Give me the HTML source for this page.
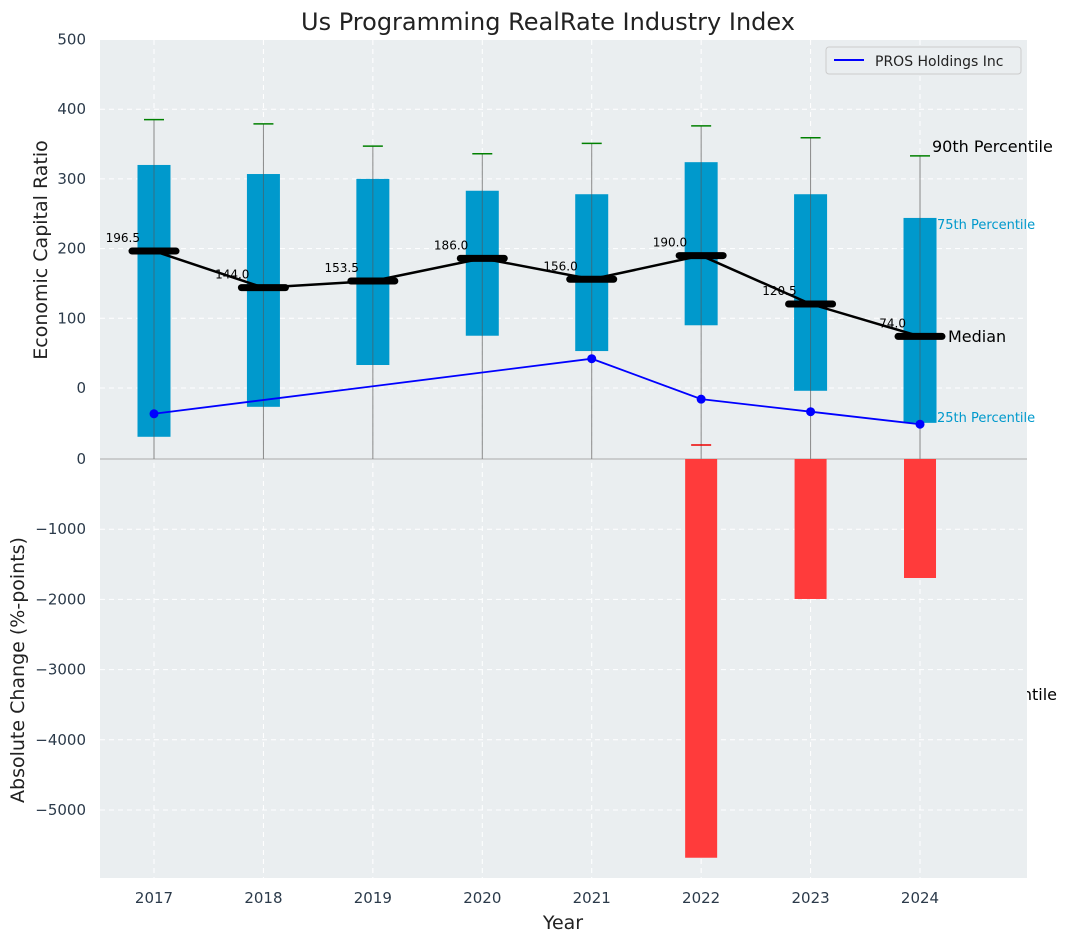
<!DOCTYPE html>
<html><head><meta charset="utf-8"><style>
body{margin:0;background:#fff;font-family:"DejaVu Sans","Liberation Sans",sans-serif}
svg text{font-family:"DejaVu Sans","Liberation Sans",sans-serif}
</style></head><body>
<svg id="c" width="1067" height="942" xmlns="http://www.w3.org/2000/svg">
<text x="1057" y="700" text-anchor="end" font-size="16" fill="#000">10th Percentile</text>
<rect x="100" y="40" width="927" height="838" fill="#eaeef0"/>
<g id="grid"></g>
<g id="marks"></g>
<text x="548" y="30" text-anchor="middle" font-size="24" fill="#222">Us Programming RealRate Industry Index</text>
<text x="563" y="929" text-anchor="middle" font-size="19" fill="#222">Year</text>
<text transform="translate(47,250) rotate(-90)" text-anchor="middle" font-size="19" fill="#222">Economic Capital Ratio</text>
<text transform="translate(24,670) rotate(-90)" text-anchor="middle" font-size="19" fill="#222">Absolute Change (%-points)</text>
<g>
<rect x="826" y="47" width="195" height="27" rx="3" fill="#eaeef0" stroke="#ccc"/>
<line x1="834" y1="60" x2="864" y2="60" stroke="#0000ff" stroke-width="2"/>
<text x="875" y="66" font-size="14" fill="#222">PROS Holdings Inc</text>
</g>
<text x="932" y="152" font-size="16" fill="#000">90th Percentile</text>
<text x="937" y="229" font-size="13" fill="#0099cc">75th Percentile</text>
<text x="948" y="342" font-size="16" fill="#000">Median</text>
<text x="937" y="422" font-size="13" fill="#0099cc">25th Percentile</text>
</svg>
<script>
const years=[2017,2018,2019,2020,2021,2022,2023,2024];
const p25=[-70,-27,33,75,53,90,-4,-50];
const p75=[320,307,300,283,278,324,278,244];
const p90=[385,379,347,336,351,376,359,333];
const medians=[196.5,144,153.5,186,156,190,120.5,74];
const pros=[-37,null,null,null,42,-16,-34,-52];
const changes=[0,0,0,0,0,-5680,-1994,-1695];
const topTicks=[0,100,200,300,400,500];
const botTicks=[0,-1000,-2000,-3000,-4000,-5000];
const NS="http://www.w3.org/2000/svg";
const xS=i=>154+i*109.43;
const yT=v=>388-v*0.697;
const yB=v=>459-v*0.0702;
const grid=document.getElementById('grid'),marks=document.getElementById('marks'),svg=document.getElementById('c');
function mk(p,tag,a){const e=document.createElementNS(NS,tag);for(const k in a)e.setAttribute(k,a[k]);p.appendChild(e);return e;}
topTicks.forEach(t=>{
 const l=mk(grid,'line',{x1:100,x2:1027,y1:yT(t),y2:yT(t),stroke:'#fff','stroke-dasharray':'5,4','stroke-width':1});
 
 
 const tx=mk(svg,'text',{x:86,y:yT(t)+5,'text-anchor':'end','font-size':15,fill:'#2b3a4a'});tx.textContent=t;
 
 
});
botTicks.forEach(t=>{
 if(t!==0){const l=mk(grid,'line',{x1:100,x2:1027,y1:yB(t),y2:yB(t),stroke:'#fff','stroke-dasharray':'5,4','stroke-width':1});
 
 }
 const tx=mk(svg,'text',{x:86,y:yB(t)+5,'text-anchor':'end','font-size':15,fill:'#2b3a4a'});tx.textContent=t===0?'0':'\u2212'+Math.abs(t);
 
 
});
years.forEach((y,i)=>{
 const l=mk(grid,'line',{x1:xS(i),x2:xS(i),y1:40,y2:878,stroke:'#fff','stroke-dasharray':'5,4'});
 
 
 const tx=mk(svg,'text',{x:xS(i),y:903,'text-anchor':'middle','font-size':15,fill:'#2b3a4a'});tx.textContent=y;
 
 
});
mk(marks,'line',{x1:100,x2:1027,y1:459,y2:459,stroke:'#aaa','stroke-width':1});
years.forEach((y,i)=>{
 const x=xS(i);
 const w=mk(marks,'line',{x1:x,x2:x,y1:yT(p90[i]),y2:459,stroke:'#888','stroke-width':1});
 
 
 const b=mk(marks,'rect',{x:x-16.5,y:yT(p75[i]),width:33,height:yT(p25[i])-yT(p75[i]),fill:'#0099cc'});
 
 
 mk(marks,'line',{x1:x,x2:x,y1:yT(p75[i]),y2:yT(p25[i]),stroke:'#555','stroke-width':1,opacity:0.6});
 const c=mk(marks,'line',{x1:x-10,x2:x+10,y1:yT(p90[i]),y2:yT(p90[i]),stroke:'#008000','stroke-width':1.5});
 
 
 if(changes[i]<0){
  const r=mk(marks,'rect',{x:x-16,y:459,width:32,height:yB(changes[i])-459,fill:'#ff3b3b'});
  
  
 }
});
mk(marks,'line',{x1:xS(5)-10,x2:xS(5)+10,y1:445,y2:445,stroke:'#e00','stroke-width':1.5});
let d='';medians.forEach((m,i)=>{d+=(i?'L':'M')+xS(i)+','+yT(m);});
const ml=mk(marks,'path',{d:d,fill:'none',stroke:'#000','stroke-width':2.5});


medians.forEach((m,i)=>{
 const s=mk(marks,'line',{x1:xS(i)-22,x2:xS(i)+22,y1:yT(m),y2:yT(m),stroke:'#000','stroke-width':7,'stroke-linecap':'round'});
 
 
 const t=mk(marks,'text',{x:xS(i)-14,y:yT(m)-9,'text-anchor':'end','font-size':12,fill:'#000'});t.textContent=m.toFixed(1);
 
 
});
let pd='';let first=true;pros.forEach((v,i)=>{if(v===null)return;pd+=(first?'M':'L')+xS(i)+','+yT(v);first=false;});
const pl=mk(marks,'path',{d:pd,fill:'none',stroke:'#0000ff','stroke-width':1.8});


pros.forEach((v,i)=>{if(v===null)return;
 const p=mk(marks,'circle',{cx:xS(i),cy:yT(v),r:4.5,fill:'#0000ff'});
 
 
});
</script>
</body></html>
